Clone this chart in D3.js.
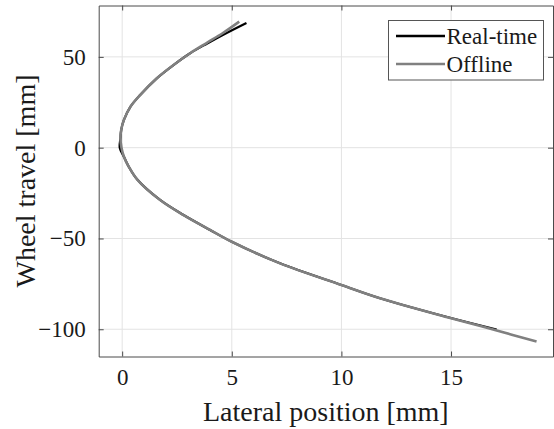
<!DOCTYPE html>
<html>
<head>
<meta charset="utf-8">
<script src="https://cdn.jsdelivr.net/npm/d3@7"></script>
<style>
  html, body { margin: 0; padding: 0; background: #fff; font-family: "Liberation Serif", serif; }
  svg { display: block; }
  text { font-family: "Liberation Serif", serif; }
</style>
</head>
<body>
<svg id="chart" width="554" height="429"></svg>
<script>
// Data (lateral position [mm], wheel travel [mm])
const offlineX = [5.34, 4.58, 3.83, 3.10, 2.34, 1.58, 0.82, 0.38, 0.08, -0.04, -0.08, -0.03, 0.08, 0.28, 0.70, 1.73, 2.80, 4.01, 5.0, 7.2, 10.0, 11.76, 15.0, 17.0, 18.9];
const offlineY = [69.4, 63.0, 57.5, 52.0, 45.5, 38.2, 29.0, 22.6, 15.3, 10.0, 5.0, 0.0, -5.0, -10.0, -17.7, -28.8, -37.1, -45.3, -51.8, -63.7, -75.6, -82.9, -93.9, -100.4, -106.8];
const realtimeX = [5.67, 4.72, 3.88, 3.10, 2.34, 1.58, 0.82, 0.38, 0.08, -0.04, -0.08, -0.11, 0.08, 0.28, 0.70, 1.73, 2.80, 4.01, 5.0, 7.2, 10.0, 11.76, 15.0, 17.08];
const realtimeY = [68.7, 62.9, 57.4, 52.0, 45.5, 38.2, 29.0, 22.6, 15.3, 10.0, 5.0, 0.0, -5.0, -10.0, -17.7, -28.8, -37.1, -45.3, -51.8, -63.7, -75.6, -82.9, -93.8, -100.1];
const xTicks = [0, 5, 10, 15];
const yTicks = [-100, -50, 0, 50];
const seriesNames = ["Real-time", "Offline"];
const seriesColors = ["#000000", "#808080"];

const FONT = "Liberation Serif";
const svg = d3.select("#chart");
const L = 98.7, R = 553, T = 5.5, B = 356.5;
const x = d3.scaleLinear().domain([-1.07, 19.65]).range([L, R]);
const y = d3.scaleLinear().domain([-115, 78.3]).range([B, T]);

// grid
const g = svg.append("g");
g.selectAll(".gx").data(xTicks).enter().append("line")
  .attr("x1", d => x(d)).attr("x2", d => x(d)).attr("y1", T).attr("y2", B)
  .attr("stroke", "#e3e3e3").attr("stroke-width", 1);
g.selectAll(".gy").data(yTicks).enter().append("line")
  .attr("y1", d => y(d)).attr("y2", d => y(d)).attr("x1", L).attr("x2", R)
  .attr("stroke", "#e3e3e3").attr("stroke-width", 1);

// clip
svg.append("clipPath").attr("id", "clip").append("rect")
  .attr("x", L).attr("y", T).attr("width", R - L).attr("height", B - T);

const line = d3.line().x(d => x(d[0])).y(d => y(d[1])).curve(d3.curveCatmullRom.alpha(0.5));
const rt = realtimeX.map((v, i) => [v, realtimeY[i]]);
const off = offlineX.map((v, i) => [v, offlineY[i]]);
const plot = svg.append("g").attr("clip-path", "url(#clip)");
plot.append("path").attr("d", line(rt)).attr("fill", "none")
  .attr("stroke", seriesColors[0]).attr("stroke-width", 2.2);
plot.append("path").attr("d", line(off)).attr("fill", "none")
  .attr("stroke", seriesColors[1]).attr("stroke-width", 2.6);

// axes (MATLAB style box with inward ticks)
const axColor = "#4a4a4a";
const xAxisB = d3.axisBottom(x).tickValues(xTicks).tickSizeInner(-5).tickSizeOuter(0).tickPadding(12).tickFormat(d3.format("d"));
const xAxisT = d3.axisTop(x).tickValues(xTicks).tickSizeInner(-5).tickSizeOuter(0).tickFormat("");
const yAxisL = d3.axisLeft(y).tickValues(yTicks).tickSizeInner(-5).tickSizeOuter(0).tickPadding(13).tickFormat(d3.format("d"));
const yAxisR = d3.axisRight(y).tickValues(yTicks).tickSizeInner(-5).tickSizeOuter(0).tickFormat("");

function style(sel) {
  sel.attr("font-family", null).attr("font-size", null);
  sel.selectAll("path").attr("stroke", axColor).attr("stroke-width", 1);
  sel.selectAll("line").attr("stroke", axColor).attr("stroke-width", 1);
  sel.selectAll("text").attr("fill", "#1a1a1a")
    .style("font-family", FONT).style("font-size", "23px");
}
svg.append("g").attr("transform", `translate(0,${B})`).call(xAxisB).call(style);
svg.append("g").attr("transform", `translate(0,${T})`).call(xAxisT).call(style);
svg.append("g").attr("transform", `translate(${L},0)`).call(yAxisL).call(style);
svg.append("g").attr("transform", `translate(${R},0)`).call(yAxisR).call(style);

// axis labels
svg.append("text").attr("x", (L + R) / 2).attr("y", 421).attr("text-anchor", "middle")
  .style("font-family", FONT).style("font-size", "28px").attr("fill", "#1a1a1a").text("Lateral position [mm]");
svg.append("text").attr("transform", `translate(35,${(T + B) / 2}) rotate(-90)`)
  .attr("text-anchor", "middle").style("font-family", FONT).style("font-size", "28px").attr("fill", "#1a1a1a")
  .text("Wheel travel [mm]");

// legend
const lg = svg.append("g");
lg.append("rect").attr("x", 388.5).attr("y", 20.5).attr("width", 155).attr("height", 59.5)
  .attr("fill", "#fff").attr("stroke", "#555").attr("stroke-width", 1);
const ly = [36, 64];
seriesNames.forEach((n, i) => {
  lg.append("line").attr("x1", 396).attr("x2", 445).attr("y1", ly[i]).attr("y2", ly[i])
    .attr("stroke", seriesColors[i]).attr("stroke-width", 2.5);
  lg.append("text").attr("x", 446.5).attr("y", ly[i] + 8).style("font-family", FONT).style("font-size", "23px")
    .attr("fill", "#1a1a1a").text(n);
});
</script>
</body>
</html>
